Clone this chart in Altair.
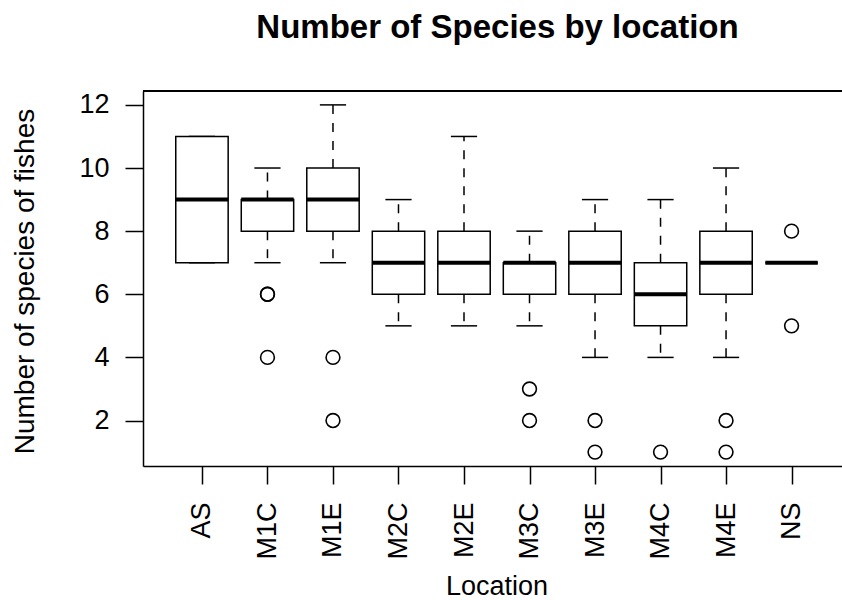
import json
import altair as alt
import pandas as pd

# ---- data ----
locations = ["AS", "M1C", "M1E", "M2C", "M2E", "M3C", "M3E", "M4C", "M4E", "NS"]
lower_whisker = [7, 7, 7, 5, 5, 5, 4, 4, 4, 7]
q1 = [7, 8, 8, 6, 6, 6, 6, 5, 6, 7]
median = [9, 9, 9, 7, 7, 7, 7, 6, 7, 7]
q3 = [11, 9, 10, 8, 8, 7, 8, 7, 8, 7]
upper_whisker = [11, 10, 12, 9, 11, 8, 9, 9, 10, 7]

outlier_location = ["M1C", "M1C", "M1C", "M1E", "M1E", "M3C", "M3C",
                    "M3E", "M3E", "M4C", "M4E", "M4E", "NS", "NS"]
outlier_value = [6, 6, 4, 4, 2, 3, 2, 2, 1, 1, 2, 1, 8, 5]

y_ticks = [2, 4, 6, 8, 10, 12]
y_domain = [0.56, 12.44]
x_domain = [0.1, 10.77]

FONT = "Liberation Sans"

positions = list(range(1, len(locations) + 1))
pos_of = {loc: p for loc, p in zip(locations, positions)}

stats = pd.DataFrame({
    "location": locations,
    "pos": positions,
    "lo": lower_whisker,
    "q1": q1,
    "med": median,
    "q3": q3,
    "hi": upper_whisker,
})
outliers = pd.DataFrame({"location": outlier_location, "value": outlier_value})
outliers["pos"] = outliers["location"].map(pos_of)

W, H = 699, 375

xscale = alt.Scale(domain=x_domain, nice=False, zero=False)
yscale = alt.Scale(domain=y_domain, nice=False, zero=False)

x_axis = alt.Axis(
    values=positions,
    labelExpr=json.dumps(locations) + "[datum.value - 1]",
    labelAngle=-90,
    labelAlign="right",
    labelBaseline="middle",
    labelFont=FONT,
    labelFontSize=27,
    labelColor="black",
    labelPadding=18,
    tickSize=18,
    tickColor="black",
    tickWidth=1.5,
    domainColor="black",
    domainWidth=1.5,
    grid=False,
    title="Location",
    titleFont=FONT,
    titleFontSize=27,
    titleFontWeight="normal",
    titleColor="black",
    titleBaseline="alphabetic",
    titleX=353.5,
    titleY=128,
    labelFlush=False,
    labelOverlap=False,
)
y_axis = alt.Axis(
    values=y_ticks,
    labelFont=FONT,
    labelFontSize=27,
    labelColor="black",
    labelPadding=16,
    tickSize=18,
    tickColor="black",
    tickWidth=1.5,
    domainColor="black",
    domainWidth=1.5,
    grid=False,
    title="Number of species of fishes",
    titleFont=FONT,
    titleFontSize=28,
    titleFontWeight="normal",
    titleColor="black",
    titleAngle=-90,
    titleAlign="center",
    titleBaseline="alphabetic",
    titleX=-110,
    titleY=190,
)

base = alt.Chart(stats).transform_calculate(
    left="datum.pos - 0.4",
    right="datum.pos + 0.4",
    capl="datum.pos - 0.2",
    capr="datum.pos + 0.2",
)

X = lambda f: alt.X(f, type="quantitative", scale=xscale, axis=x_axis)
Y = lambda f: alt.Y(f, type="quantitative", scale=yscale, axis=y_axis)

upper_w = base.mark_rule(color="black", strokeWidth=1.5, strokeDash=[9, 9]).encode(
    x=X("pos"), y=Y("q3"), y2="hi")
lower_w = base.mark_rule(color="black", strokeWidth=1.5, strokeDash=[9, 9]).encode(
    x=X("pos"), y=Y("q1"), y2="lo")
upper_cap = base.mark_rule(color="black", strokeWidth=1.5).encode(
    x=X("capl"), x2="capr", y=Y("hi"))
lower_cap = base.mark_rule(color="black", strokeWidth=1.5).encode(
    x=X("capl"), x2="capr", y=Y("lo"))
boxes = base.mark_rect(fill="white", stroke="black", strokeWidth=1.5).encode(
    x=X("left"), x2="right", y=Y("q1"), y2="q3")
medians = base.mark_rule(color="black", strokeWidth=4, strokeCap="butt").encode(
    x=X("left"), x2="right", y=Y("med"))
points = alt.Chart(outliers).mark_point(
    shape="circle", filled=False, color="black", strokeWidth=1.6, size=190, opacity=1
).encode(x=X("pos"), y=Y("value"))
top_border = base.mark_rule(color="black", strokeWidth=1.5).encode(
    y=alt.Y(datum=y_domain[1], type="quantitative", scale=yscale, axis=y_axis))

chart = alt.layer(
    upper_w, lower_w, upper_cap, lower_cap, boxes, medians, points, top_border
).properties(
    width=W,
    height=H,
    title=alt.TitleParams(
        "Number of Species by location",
        font=FONT,
        fontSize=33,
        fontWeight="bold",
        color="black",
        anchor="middle",
        frame="group",
        baseline="alphabetic",
        offset=19,
        dx=5,
    ),
    autosize=alt.AutoSizeParams(type="none"),
    padding={"left": 143, "top": 91, "right": 0, "bottom": 134},
    background="white",
).configure_view(stroke=None)

chart.save("out.html", embed_options={"renderer": "svg", "actions": False})
